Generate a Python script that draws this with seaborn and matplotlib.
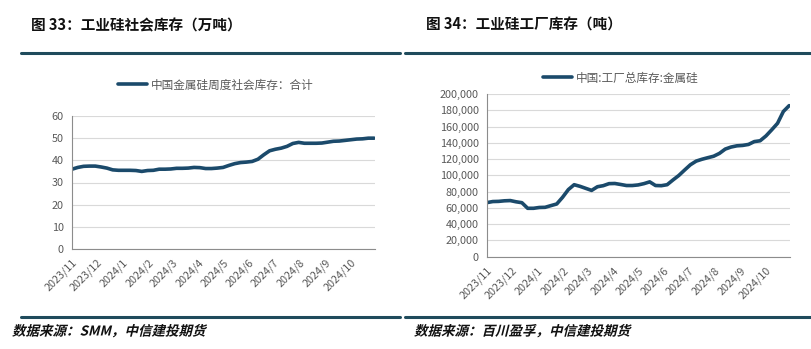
import matplotlib
matplotlib.use("Agg")
import matplotlib.pyplot as plt
import matplotlib.dates as mdates
from matplotlib.ticker import FuncFormatter
from matplotlib.textpath import TextPath
from matplotlib.patches import PathPatch
from matplotlib.font_manager import FontProperties
from matplotlib.transforms import Affine2D
import seaborn as sns
import pandas as pd

sns.set_theme(style="white")
plt.rcParams['font.family'] = ['Noto Sans CJK SC', 'DejaVu Sans']

# Weekly social inventory of silicon metal (10k tonnes)
social_stock = [36.0, 36.8, 37.3, 37.4, 37.4, 37.0, 36.5, 35.7, 35.5, 35.5,
                35.5, 35.4, 35.0, 35.4, 35.5, 36.0, 36.0, 36.1, 36.4, 36.4,
                36.5, 36.8, 36.7, 36.3, 36.3, 36.5, 36.8, 37.7, 38.5, 39.0,
                39.2, 39.5, 40.5, 42.5, 44.3, 45.0, 45.5, 46.3, 47.6, 48.1,
                47.7, 47.7, 47.7, 47.8, 48.2, 48.6, 48.7, 49.0, 49.3, 49.6,
                49.7, 50.0, 50.0]

# Weekly factory inventory of silicon metal (tonnes)
factory_stock = [66500, 67800, 68000, 68700, 69000, 67500, 66400, 59500, 59500, 60500,
                 60700, 62800, 64800, 73000, 82500, 88500, 86500, 84000, 81500, 86000,
                 87300, 89800, 90000, 88800, 87500, 87500, 88200, 89800, 92000, 87500,
                 87300, 88500, 94300, 99800, 106500, 113000, 117500, 119800, 121700, 123500,
                 127000, 132300, 134800, 136300, 136800, 138000, 141500, 142500, 148400, 156000,
                 164000, 178500, 185700]

dates = pd.date_range("2023-11-01", periods=len(social_stock), freq="7D")
month_ticks = pd.date_range("2023-11-01", "2024-10-01", freq="MS")

social_label = "中国金属硅周度社会库存：合计"
factory_label = "中国:工厂总库存:金属硅"

df_social = pd.DataFrame({"date": dates, "value": social_stock})
df_factory = pd.DataFrame({"date": dates, "value": factory_stock})

LINE = "#1B4A6B"
RULE = "#1F4B5C"
GRID = "#D9D9D9"
AXIS = "#8C8C8C"
TXT = "#595959"

W, H = 811, 349
fig = plt.figure(figsize=(W / 100, H / 100), dpi=100)


def style_axes(ax):
    for s in ["top", "right"]:
        ax.spines[s].set_visible(False)
    for s in ["left", "bottom"]:
        ax.spines[s].set_color(AXIS)
        ax.spines[s].set_linewidth(0.8)
    ax.grid(axis="y", color=GRID, linewidth=0.8)
    ax.grid(axis="x", visible=False)
    ax.set_axisbelow(True)
    ax.tick_params(axis="both", which="major", direction="out", length=4,
                   width=0.8, color=AXIS, labelcolor=TXT, labelsize=7.8, pad=2)
    ax.set_xticks(month_ticks)
    ax.xaxis.set_major_formatter(FuncFormatter(
        lambda v, p: f"{mdates.num2date(v).year}/{mdates.num2date(v).month}"))
    for lab in ax.get_xticklabels():
        lab.set_rotation(45)
        lab.set_ha("right")
        lab.set_rotation_mode("anchor")
    ax.set_xlim(pd.Timestamp("2023-11-01"), pd.Timestamp("2024-10-31"))
    ax.set_xlabel("")
    ax.set_ylabel("")


# Left panel: social inventory
ax1 = fig.add_axes([72 / W, 1 - 249 / H, 303 / W, 133 / H])
sns.lineplot(data=df_social, x="date", y="value", ax=ax1, color=LINE,
             linewidth=2.6, label=social_label)
ax1.set_ylim(0, 60)
ax1.set_yticks(range(0, 61, 10))
style_axes(ax1)
ax1.legend(loc="center left", bbox_to_anchor=(118 / W, 1 - 85 / H),
           bbox_transform=fig.transFigure, frameon=False,
           fontsize=8.4, handlelength=2.5, handletextpad=0.3,
           labelcolor=TXT, borderaxespad=0, borderpad=0)

# Right panel: factory inventory
ax2 = fig.add_axes([487 / W, 1 - 256.7 / H, 303 / W, 162.7 / H])
sns.lineplot(data=df_factory, x="date", y="value", ax=ax2, color=LINE,
             linewidth=2.6, label=factory_label)
ax2.set_ylim(0, 200000)
ax2.set_yticks(range(0, 200001, 20000))
ax2.yaxis.set_major_formatter(FuncFormatter(lambda v, p: f"{int(v):,}"))
style_axes(ax2)
ax2.legend(loc="center left", bbox_to_anchor=(543 / W, 1 - 78 / H),
           bbox_transform=fig.transFigure, frameon=False,
           fontsize=8.4, handlelength=2.5, handletextpad=0.3,
           labelcolor=TXT, borderaxespad=0, borderpad=0)

# Titles
fig.text(31 / W, 1 - 25 / H, "图 33：工业硅社会库存（万吨）", fontsize=10.5,
         fontweight="bold", color="#111111", va="center", ha="left")
fig.text(426 / W, 1 - 25 / H, "图 34：工业硅工厂库存（吨）", fontsize=10.5,
         fontweight="bold", color="#111111", va="center", ha="left")

# Header and footer rules
for x0, x1 in [(21, 400), (405, 811)]:
    for y in (53, 317):
        fig.add_artist(plt.Line2D([x0 / W, x1 / W], [1 - y / H, 1 - y / H],
                                  color=RULE, linewidth=2.2,
                                  transform=fig.transFigure))

# Source notes, slanted bold
src_font = FontProperties(family="Noto Sans CJK SC", weight="bold")


def slanted_text(x_px, y_base_px, text, size_px=13.5):
    path = TextPath((0, 0), text, size=size_px, prop=src_font)
    tr = Affine2D().skew_deg(14, 0).translate(x_px, H - y_base_px)
    fig.add_artist(PathPatch(path, transform=tr, facecolor="#111111",
                             edgecolor="none"))


slanted_text(12, 335.5, "数据来源：SMM，中信建投期货")
slanted_text(414, 335.5, "数据来源：百川盈孚，中信建投期货")

fig.savefig("out.png", dpi=100)
